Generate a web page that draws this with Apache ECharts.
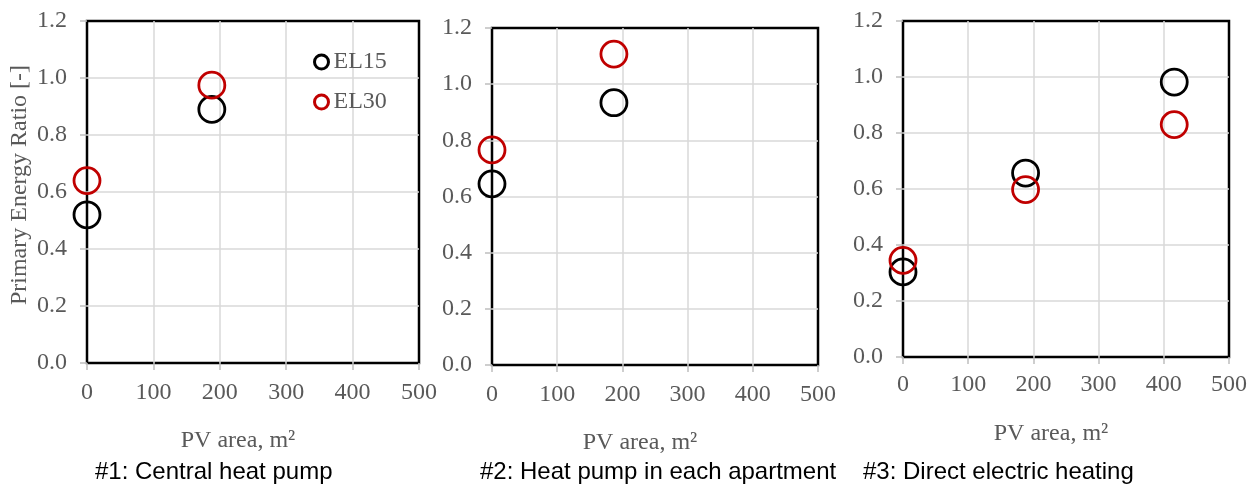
<!DOCTYPE html>
<html>
<head>
<meta charset="utf-8">
<script src="https://cdn.jsdelivr.net/npm/echarts@6/dist/echarts.min.js"></script>
<style>
html,body{margin:0;padding:0;background:#fff;}
#chart{width:1259px;height:487px;}
</style>
</head>
<body>
<div id="chart"></div>
<script>
// ---- data ----
const p1X = [0, 188];
const p1EL15 = [0.52, 0.89];
const p1EL30 = [0.64, 0.975];

const p2X = [0, 187];
const p2EL15 = [0.645, 0.934];
const p2EL30 = [0.766, 1.107];

const p3X = [0, 188, 416];
const p3EL15 = [0.304, 0.657, 0.982];
const p3EL30 = [0.345, 0.598, 0.830];

const seriesNames = ['EL15', 'EL30'];
const subtitles = ['#1: Central heat pump', '#2: Heat pump in each apartment', '#3: Direct electric heating'];
const xName = 'PV area, m²';
const yName = 'Primary Energy Ratio [-]';

// ---- styling ----
const serif = 'Liberation Serif';
const gray = '#595959';
const colors = {EL15: '#000000', EL30: '#c00000'};

const grids = [
  {left: 87, top: 21, width: 332, height: 342},
  {left: 492, top: 28, width: 326, height: 337},
  {left: 903, top: 21, width: 326, height: 336}
];

function pairs(xs, ys) { return xs.map((x, i) => [x, ys[i]]); }

function xAxis(i) {
  return {
    gridIndex: i, type: 'value', min: 0, max: 500, interval: 100,
    name: xName, nameLocation: 'middle', nameGap: i === 2 ? 65 : 66,
    nameTextStyle: {fontFamily: serif, fontSize: 24, color: gray, padding: [0, 30, 0, 0]},
    axisLine: {show: false},
    axisTick: {show: true, length: 7, lineStyle: {color: '#bfbfbf', width: 1.5}},
    axisLabel: {fontFamily: serif, fontSize: 24, color: gray, margin: i === 2 ? 16 : 18},
    splitLine: {show: true, showMinLine: false, showMaxLine: false, lineStyle: {color: '#d9d9d9', width: 1.5}}
  };
}
function yAxis(i) {
  const a = {
    gridIndex: i, type: 'value', min: 0, max: 1.2, interval: 0.2,
    axisLine: {show: false},
    axisTick: {show: true, length: 7, lineStyle: {color: '#bfbfbf', width: 1.5}},
    axisLabel: {fontFamily: serif, fontSize: 24, color: gray, margin: 20,
      formatter: v => v.toFixed(1)},
    splitLine: {show: true, showMinLine: false, showMaxLine: false, lineStyle: {color: '#d9d9d9', width: 1.5}}
  };
  if (i === 0) {
    a.name = yName;
    a.nameLocation = 'middle';
    a.nameGap = 55;
    a.nameTextStyle = {fontFamily: serif, fontSize: 24, color: gray, padding: [0, 0, 0, 14]};
  }
  return a;
}
function scatter(name, i, data) {
  return {
    name: name, type: 'scatter', xAxisIndex: i, yAxisIndex: i,
    symbol: 'circle', symbolSize: 26, data: data,
    itemStyle: {color: 'rgba(0,0,0,0)', borderColor: colors[name], borderWidth: 2.8, opacity: 1},
    emphasis: {disabled: true}
  };
}

const chart = echarts.init(document.getElementById('chart'), null, {renderer: 'canvas'});
chart.setOption({
  backgroundColor: '#fff',
  animation: false,
  grid: grids.map(g => Object.assign({show: true, borderColor: '#000', borderWidth: 2.5, backgroundColor: 'transparent'}, g)),
  xAxis: [0, 1, 2].map(xAxis),
  yAxis: [0, 1, 2].map(yAxis),
  legend: {
    orient: 'vertical', left: 308, top: 45, itemWidth: 14, itemHeight: 14, itemGap: 16,
    textStyle: {fontFamily: serif, fontSize: 24, color: gray},
    data: seriesNames.map(n => ({name: n, icon: 'circle',
      itemStyle: {color: 'rgba(0,0,0,0)', borderColor: colors[n], borderWidth: 3}}))
  },
  graphic: [
    {type: 'text', left: 95, top: 460, style: {text: subtitles[0], font: '24px "Liberation Sans"', fill: '#000'}},
    {type: 'text', left: 480, top: 460, style: {text: subtitles[1], font: '24px "Liberation Sans"', fill: '#000'}},
    {type: 'text', left: 863, top: 460, style: {text: subtitles[2], font: '24px "Liberation Sans"', fill: '#000'}}
  ],
  series: [
    scatter('EL15', 0, pairs(p1X, p1EL15)),
    scatter('EL30', 0, pairs(p1X, p1EL30)),
    scatter('EL15', 1, pairs(p2X, p2EL15)),
    scatter('EL30', 1, pairs(p2X, p2EL30)),
    scatter('EL15', 2, pairs(p3X, p3EL15)),
    scatter('EL30', 2, pairs(p3X, p3EL30))
  ]
});
</script>
</body>
</html>
